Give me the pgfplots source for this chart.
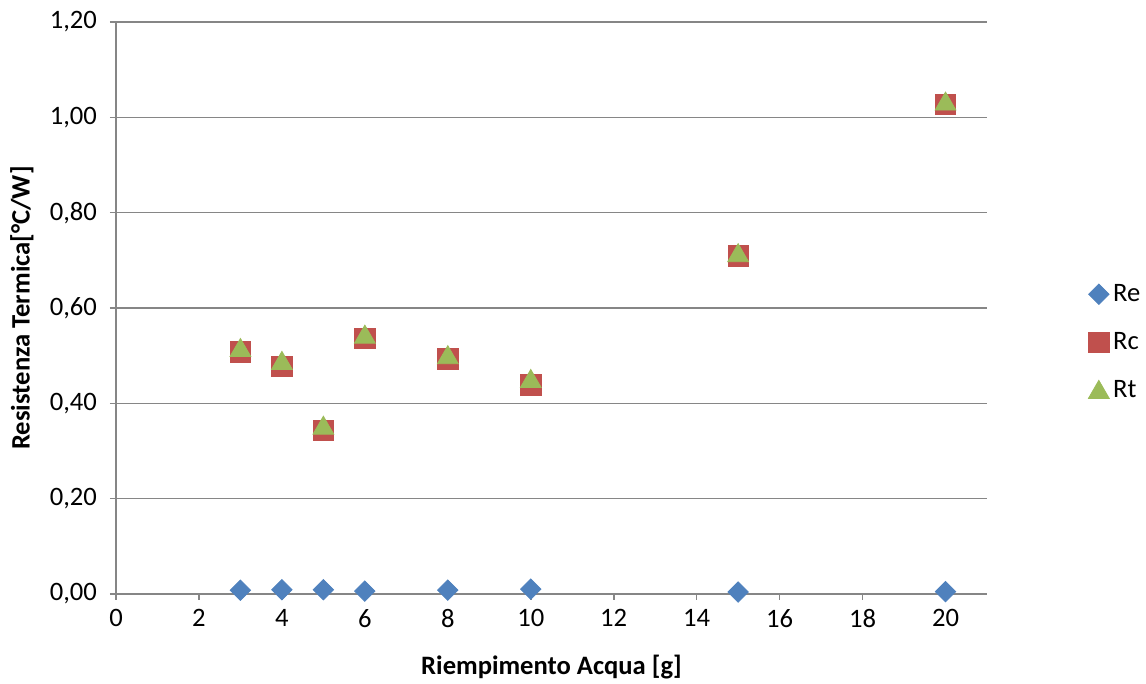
\documentclass[border=0pt]{standalone}
\usepackage{fontspec}
\setmainfont{Carlito}
\usepackage{pgfplots}
\pgfplotsset{compat=1.18}
\definecolor{reblue}{HTML}{4F81BD}
\definecolor{rcred}{HTML}{C0504D}
\definecolor{rtgreen}{HTML}{9BBB59}
\definecolor{gridgray}{HTML}{868686}
\begin{document}
\begin{tikzpicture}
\path[use as bounding box] (-58pt,-45pt) rectangle (515pt,297pt);
\begin{axis}[
  scale only axis,
  width=435.5pt, height=286pt,
  xmin=0, xmax=21, ymin=0, ymax=1.2,
  xtick={0,2,...,20}, ytick={0,0.2,...,1.2},
  axis x line*=bottom, axis y line*=left,
  axis line style={gridgray, line width=0.8pt, -},
  ymajorgrids, grid style={gridgray, line width=0.8pt},
  tick align=outside, major tick length=3pt,
  tick style={gridgray, line width=0.8pt},
  ticklabel style={font=\fontsize{13.3}{16}\selectfont, text=black},
  /pgf/number format/assume math mode=true,
  yticklabel style={xshift=-3pt, /pgf/number format/.cd, fixed, fixed zerofill, precision=2, use comma},
  xticklabel style={yshift=-1pt, /pgf/number format/.cd, fixed, precision=0},
  xlabel={\bfseries Riempimento Acqua [g]},
  ylabel={\bfseries Resistenza Termica[°C/W]},
  label style={font=\fontsize{13.3}{16}\selectfont\bfseries},
  xlabel style={at={(axis description cs:0.5,-0.1276)}, anchor=center},
  ylabel style={at={(axis description cs:-0.108,0.5)}, anchor=center},
  legend style={at={(1.116,0.44)}, anchor=west, draw=none, fill=none,
    font=\fontsize{13.3}{16}\selectfont, row sep=10pt,
    legend cell align=left, inner sep=0pt},
  legend image code/.code={\draw[#1] plot coordinates {(0.2cm,0cm)};},
  clip=false,
]
\addplot[only marks, mark=square*, mark size=3.6pt, mark options={rotate=45, fill=reblue, draw=reblue}] coordinates {
(3,0.008) (4,0.009) (5,0.009) (6,0.006) (8,0.008) (10,0.010) (15,0.004) (20,0.005)};
\addlegendentry{Re}
\addplot[only marks, mark=square*, mark size=5.1pt, mark options={fill=rcred, draw=rcred}] coordinates {
(3,0.508) (4,0.478) (5,0.343) (6,0.536) (8,0.493) (10,0.439) (15,0.709) (20,1.027)};
\addlegendentry{Rc}
\addplot[only marks, mark=triangle*, mark size=6pt, mark options={fill=rtgreen, draw=rtgreen, yshift=-1pt}] coordinates {
(3,0.515) (4,0.488) (5,0.352) (6,0.543) (8,0.500) (10,0.450) (15,0.714) (20,1.032)};
\addlegendentry{Rt}
\end{axis}
\end{tikzpicture}
\end{document}
